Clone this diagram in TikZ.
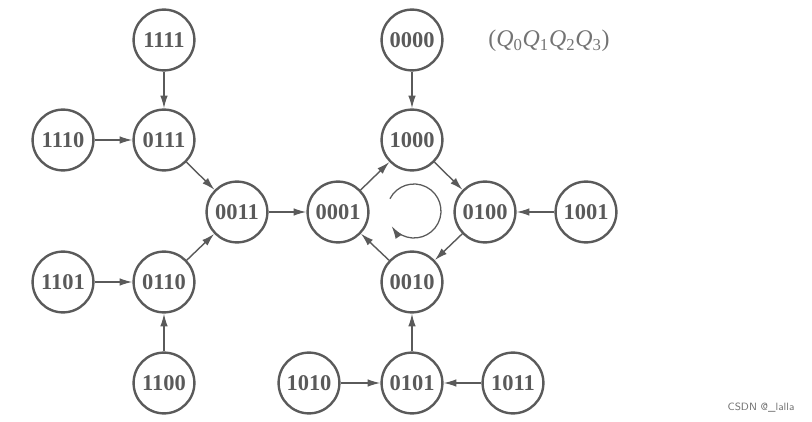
\documentclass[tikz,border=0pt]{standalone}
\usepackage{fontspec}
\setmainfont{Liberation Serif}
\usetikzlibrary{arrows.meta}
\definecolor{ink}{HTML}{5A5A5A}
\tikzset{
  st/.style = {
    circle, draw=ink, line width=1.7pt, minimum size=1.52cm, inner sep=0pt,
    text=ink, font=\fontsize{16}{18}\selectfont\bfseries
  },
  tr/.style = {draw=ink, line width=1pt, -{Latex[length=3.2mm,width=1.9mm]}}
}

\begin{document}
\begin{tikzpicture}[x=0.025cm,y=0.025cm]
\useasboundingbox (0,0) rectangle (812,422);
% left branch
\node[st] (n1111) at (164,382) {1111};
\node[st] (n0111) at (164,282) {0111};
\node[st] (n1110) at (63,282)  {1110};
\node[st] (n0011) at (237,210) {0011};
\node[st] (n0110) at (164,140) {0110};
\node[st] (n1101) at (63,140)  {1101};
\node[st] (n1100) at (164,39)  {1100};
% the loop
\node[st] (n0001) at (338,210) {0001};
\node[st] (n1000) at (412,282) {1000};
\node[st] (n0100) at (485,210) {0100};
\node[st] (n0010) at (412,140) {0010};
% feeders of the loop
\node[st] (n0000) at (412,382) {0000};
\node[st] (n1001) at (586,210) {1001};
\node[st] (n0101) at (412,39)  {0101};
\node[st] (n1010) at (309,39)  {1010};
\node[st] (n1011) at (513,39)  {1011};
\node[text=ink!85, font=\fontsize{17}{19}\selectfont] (lbl) at (549,381)
  {(\textit{Q}\textsubscript{0}\textit{Q}\textsubscript{1}\textit{Q}\textsubscript{2}\textit{Q}\textsubscript{3})};
\node[text=black!55, font=\sffamily\fontsize{7.5}{9}\selectfont] (wm) at (761,14) {CSDN @\_lalla};

\draw[tr] (n1111) -- (n0111);
\draw[tr] (n1110) -- (n0111);
\draw[tr] (n0111) -- (n0011);
\draw[tr] (n0110) -- (n0011);
\draw[tr] (n1101) -- (n0110);
\draw[tr] (n1100) -- (n0110);
\draw[tr] (n0011) -- (n0001);
\draw[tr] (n0001) -- (n1000);
\draw[tr] (n1000) -- (n0100);
\draw[tr] (n0100) -- (n0010);
\draw[tr] (n0010) -- (n0001);
\draw[tr] (n0000) -- (n1000);
\draw[tr] (n1001) -- (n0100);
\draw[tr] (n0101) -- (n0010);
\draw[tr] (n1010) -- (n0101);
\draw[tr] (n1011) -- (n0101);
% clockwise turn in the middle of the loop
\draw[tr, line width=0.9pt] (414,211) ++(153:27) arc[start angle=153, end angle=-146, radius=27];
\end{tikzpicture}
\end{document}
